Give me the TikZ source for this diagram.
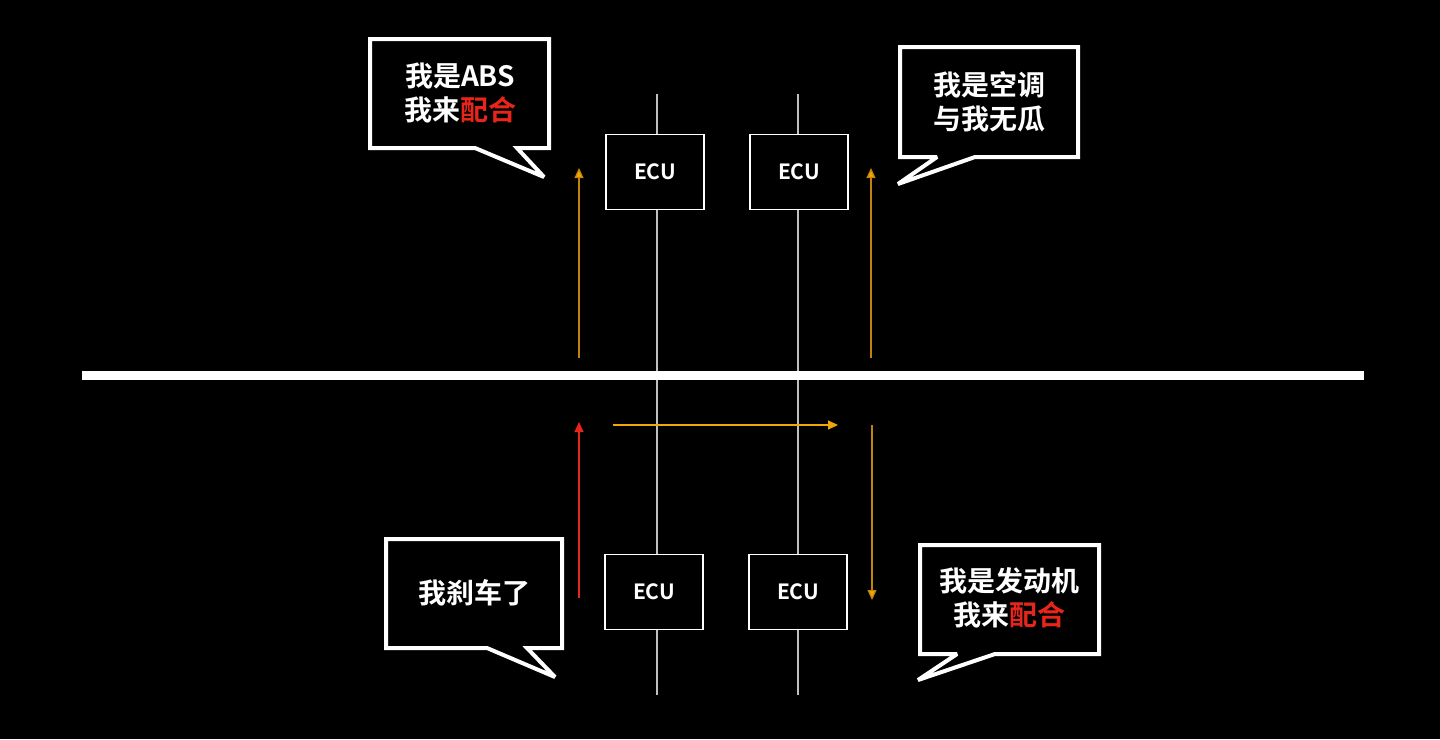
\documentclass[tikz,border=0pt]{standalone}
\usepackage{fontspec}
\setmainfont{Noto Sans CJK SC Bold}
\usetikzlibrary{arrows.meta,positioning}
\definecolor{sigred}{HTML}{E8251A}
\definecolor{sigorange}{HTML}{F2A40C}
\tikzset{
  ecu/.style={draw=white,line width=0.8pt,minimum width=49pt,minimum height=37.5pt,text=white,font=\fontsize{10.5}{12}\selectfont},
  say/.style={text=white,align=center,font=\fontsize{14}{17}\selectfont},
  bubble/.style={draw=white,line width=2pt,line join=miter,miter limit=3,fill=black},
  wire/.style={draw=white!75!black,line width=0.6pt},
  sig/.style={line width=0.6pt,-{Triangle[length=5pt,width=4.5pt]}},
}
\begin{document}
\begin{tikzpicture}[x=0.5pt,y=-0.5pt]
\fill[black] (0,0) rectangle (1440,739);
\useasboundingbox (0,0) rectangle (1440,739);

% bus lines
\draw[wire] (657,94) -- (657,695);
\draw[wire] (798,94) -- (798,695);
\draw[white,line width=4.5pt] (82,375) -- (1364,375);

% ECUs
\node[ecu,fill=black] (e1) at (655,172) {ECU};
\node[ecu,fill=black] (e2) at (799,172) {ECU};
\node[ecu,fill=black] (e3) at (654,592) {ECU};
\node[ecu,fill=black] (e4) at (798,592) {ECU};

% signals
\coordinate (a1) at (579,358); \coordinate (a2) at (579,168);
\coordinate (b1) at (871,358); \coordinate (b2) at (871,168);
\coordinate (c1) at (579,598); \coordinate (c2) at (579,422);
\coordinate (d1) at (613,425); \coordinate (d2) at (838,425);
\coordinate (f1) at (872,425); \coordinate (f2) at (872,600);
\draw[sig,sigorange!80!black,-{Triangle[length=5pt,width=4.5pt,fill=sigorange]}] (a1) -- (a2);
\draw[sig,sigorange!80!black,-{Triangle[length=5pt,width=4.5pt,fill=sigorange]}] (b1) -- (b2);
\draw[sig,sigred] (c1) -- (c2);
\draw[sig,sigorange] (d1) -- (d2);
\draw[sig,sigorange!80!black,-{Triangle[length=5pt,width=4.5pt,fill=sigorange]}] (f1) -- (f2);

% speech bubbles
\draw[bubble] (370,148) -- (370,39) -- (549,39) -- (549,148) -- (517,148) -- (544,177) -- (475,148) -- cycle;
\node[say] (abs) at (460,93) {我是ABS\\我来{\color{sigred}配合}};

\draw[bubble] (900,157) -- (900,47) -- (1078,47) -- (1078,157) -- (975,157) -- (898,184) -- (937,157) -- cycle;
\node[say] (ac) at (989,102) {我是空调\\与我无瓜};

\draw[bubble] (386,648) -- (386,539) -- (562,539) -- (562,648) -- (527,648) -- (555,677) -- (487,648) -- cycle;
\node[say] (brake) at (474,593) {我刹车了};

\draw[bubble] (920,654) -- (920,545) -- (1099,545) -- (1099,654) -- (995,654) -- (918,680) -- (957,654) -- cycle;
\node[say] (eng) at (1009,598) {我是发动机\\我来{\color{sigred}配合}};
\end{tikzpicture}
\end{document}
